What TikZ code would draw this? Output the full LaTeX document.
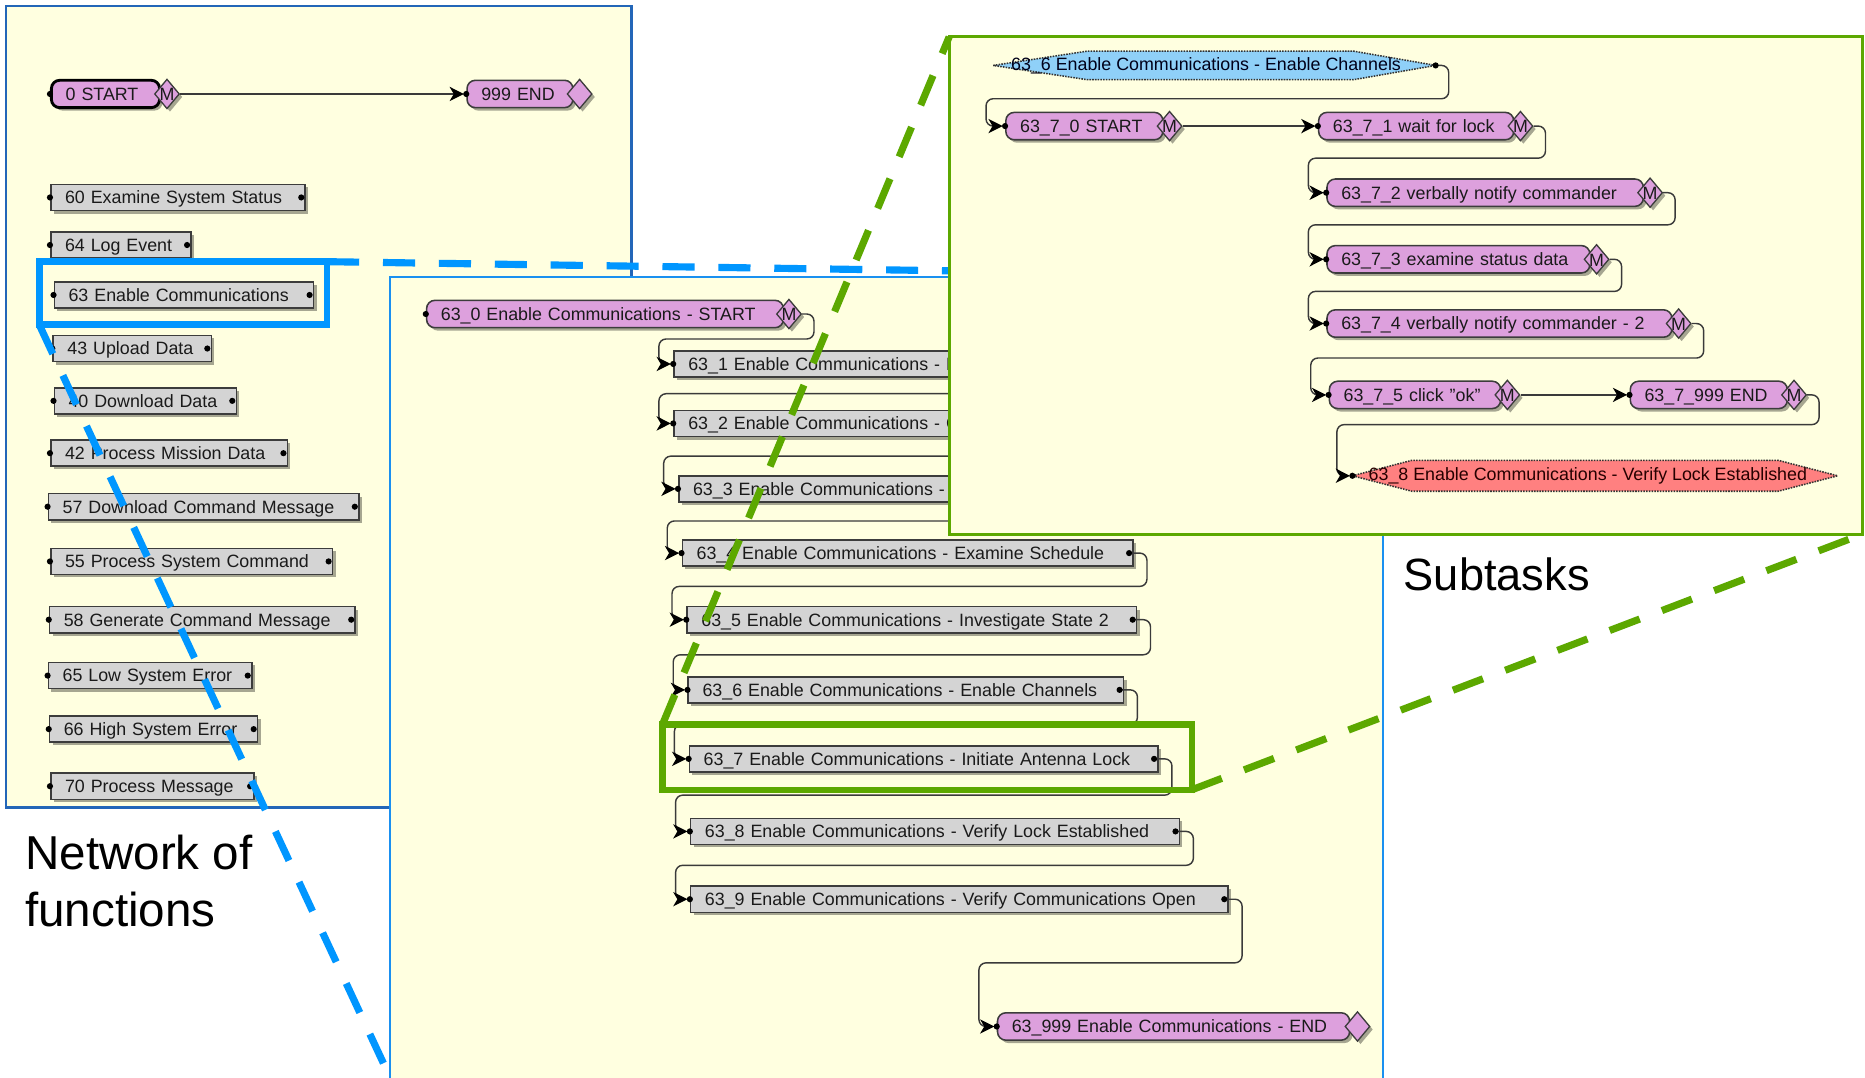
\documentclass[tikz,border=0pt]{standalone}
\usepackage{fontspec}
\setmainfont{Liberation Sans}
\usetikzlibrary{shapes.geometric,shadows,arrows.meta,calc}
\definecolor{panelfill}{HTML}{FFFFE0}
\definecolor{panAline}{HTML}{2366B8}
\definecolor{panBline}{HTML}{1A90F0}
\definecolor{hlblue}{HTML}{0096FF}
\definecolor{hlgreen}{HTML}{5CA800}
\definecolor{grayfill}{HTML}{D4D4D4}
\definecolor{pinkfill}{HTML}{DDA0DD}
\definecolor{boxline}{HTML}{3C3C3C}
\definecolor{linec}{HTML}{3A3A3A}
\definecolor{bluefill}{HTML}{8FD0F8}
\definecolor{redfill}{HTML}{FF8080}
\definecolor{txtc}{HTML}{1A1A1A}
\newcommand\myNodeFont{\fontsize{15}{18}\selectfont}
\newcommand\myMFont{\fontsize{15}{15}\selectfont}
\newcommand\mkLdot[1]{\fill[black] (#1.west) circle (2.6pt);}
\newcommand\mkRdot[1]{\fill[black] ([xshift=-4pt]#1.east) circle (2.6pt);}
% source, target, run right, drop, back-off left
\newcommand\retFlow[5]{\draw[flow] (#1) -- ++(#3pt,0pt) -- ++(0,#4) -| ([xshift=-#5pt]#2.west) -- (#2.west);}
\begin{document}
\begin{tikzpicture}[x=1pt,y=-1pt,
  every node/.style={font=\myNodeFont, text=txtc},
  shad/.style={drop shadow={shadow xshift=2.5pt,shadow yshift=-2.5pt,fill=black,opacity=0.35}},
  box/.style={anchor=west, inner xsep=12pt, inner ysep=0pt, minimum height=22pt, text height=11.5pt, text depth=0.8pt, align=left, line width=1.3pt, draw=boxline, shad},
  gbox/.style={box, fill=grayfill, text width=#1},
  pbox/.style={box, fill=pinkfill, rounded corners=7pt, minimum height=23pt, text width=#1},
  edia/.style={diamond, draw=boxline, line width=1.1pt, fill=pinkfill, minimum width=21pt, minimum height=25pt, inner sep=0pt, shad},
  mdia/.style={edia, label={[font=\myMFont, inner sep=0pt, text=txtc, yshift=-0.5pt]center:M}},
  flow/.style={draw=linec, line width=1.2pt, rounded corners=6pt, -{Stealth[length=12pt,width=12pt,inset=3.5pt,color=black]}, shorten >=2pt},
  panel/.style={fill=panelfill, line width=2pt},
  dashln/.style={line width=6pt, dash pattern=on 27pt off 20pt},
  hlbox/.style={draw=#1, line width=5.5pt, outer sep=0pt, inner sep=0pt, anchor=north west},
  sigsh/.style={draw=black!80, densely dotted, line width=1.3pt},
]
\useasboundingbox (0,0) rectangle (1568,906);
\clip (0,0) rectangle (1568,906);
\fill[white] (0,0) rectangle (1568,906);

% ---------------- Panel A: network of functions
\filldraw[panel, draw=panAline] (5,5) rectangle (531,679);
\node[pbox=67pt, line width=2.4pt, draw=black] (a0) at (42,79) {0 START};
\node[mdia] (a0m) at ([xshift=5pt]a0.east) {};
\node[pbox=65pt] (a999) at (392,79) {999 END};
\node[edia] (a999d) at ([xshift=5pt]a999.east) {};
\draw[flow] (a0m.east) -- (a999.west);
\mkLdot{a0} \mkLdot{a999}

\node[gbox=190pt] (a60) at (42,166) {60 Examine System Status};
\node[gbox=94pt]  (a64) at (42,206) {64 Log Event};
\node[gbox=194pt] (a63) at (45,248) {63 Enable Communications};
\node[gbox=109pt] (a43) at (44,293) {43 Upload Data};
\node[gbox=129pt] (a40) at (45,337) {40 Download Data};
\node[gbox=175pt] (a42) at (42,381) {42 Process Mission Data};
\node[gbox=237pt] (a57) at (40,426) {57 Download Command Message};
\node[gbox=213pt] (a55) at (42,472) {55 Process System Command};
\node[gbox=233pt] (a58) at (41,521) {58 Generate Command Message};
\node[gbox=147pt] (a65) at (40,568) {65 Low System Error};
\node[gbox=151pt] (a66) at (41,613) {66 High System Error};
\node[gbox=147pt] (a70) at (42,661) {70 Process Message};
\foreach \n in {a60,a64,a63,a43,a40,a42,a57,a55,a58,a65,a66,a70}{\mkLdot{\n} \mkRdot{\n}}

% blue highlight and zoom lines
\node[hlbox=hlblue, minimum width=242pt, minimum height=53pt] (hlA) at (33,220) {};
\coordinate (pBtr) at (1163,233);
\coordinate (pBbl) at (328,906);
\draw[dashln, hlblue] (hlA.north east) -- (pBtr);
\draw[dashln, hlblue] (hlA.south west) -- (pBbl);

% ---------------- Panel B: 63 Enable Communications
\filldraw[panel, draw=panBline] (328,233) rectangle (1163,915);
\node[pbox=276pt] (b0) at (358,264) {63\_0 Enable Communications - START};
\node[mdia] (b0m) at ([xshift=4pt]b0.east) {};
\node[gbox=396pt] (b1) at (566,306) {63\_1 Enable Communications - F};
\node[gbox=396pt] (b2) at (566,356) {63\_2 Enable Communications - C};
\node[gbox=396pt] (b3) at (570,411) {63\_3 Enable Communications - I};
\node[gbox=355pt] (b4) at (573,465) {63\_4 Enable Communications - Examine Schedule};
\node[gbox=354pt] (b5) at (577,521) {63\_5 Enable Communications - Investigate State 2};
\node[gbox=342pt] (b6) at (578,580) {63\_6 Enable Communications - Enable Channels};
\node[gbox=370pt] (b7) at (579,638) {63\_7 Enable Communications - Initiate Antenna Lock};
\node[gbox=387pt] (b8) at (580,699) {63\_8 Enable Communications - Verify Lock Established};
\node[gbox=428pt] (b9) at (580,756) {63\_9 Enable Communications - Verify Communications Open};
\node[pbox=272pt] (b999) at (838,863) {63\_999 Enable Communications - END};
\node[edia] (b999d) at ([xshift=6pt]b999.east) {};

\retFlow{b0m.east}{b1}{10}{21}{12}
\retFlow{[xshift=-4pt]b1.east}{b2}{15}{25}{12}
\retFlow{[xshift=-4pt]b2.east}{b3}{15}{27.5}{12}
\retFlow{[xshift=-4pt]b3.east}{b4}{15}{27}{12}
\retFlow{[xshift=-4pt]b4.east}{b5}{15}{28}{12}
\retFlow{[xshift=-4pt]b5.east}{b6}{15}{29.5}{12}
\retFlow{[xshift=-4pt]b6.east}{b7}{15}{29}{12}
\retFlow{[xshift=-4pt]b7.east}{b8}{15}{30.5}{12}
\retFlow{[xshift=-4pt]b8.east}{b9}{15}{28.5}{12}
\retFlow{[xshift=-4pt]b9.east}{b999}{15}{53.5}{15}
\mkLdot{b0} \mkLdot{b999}
\foreach \n in {b1,b2,b3,b4,b5,b6,b7,b8,b9}{\mkLdot{\n} \mkRdot{\n}}

% ---------------- Panel C: subtasks
\filldraw[panel, draw=hlgreen, line width=2.5pt] (798,31) rectangle (1566,449);
\filldraw[sigsh, fill=bluefill] (835,55) -- (914,43) -- (1138,43) -- (1207,55) -- (1138,67) -- (914,67) -- cycle;
\node[inner sep=0pt, text=black!90!blue] (c6) at (1014,55) {63\_6 Enable Communications - Enable Channels};
\coordinate (c6r) at (1207,55);

\node[pbox=108pt] (c70) at (845,106) {63\_7\_0 START};
\node[mdia] (c70m) at ([xshift=5pt]c70.east) {};
\node[pbox=140pt] (c71) at (1108,106) {63\_7\_1 wait for lock};
\node[mdia] (c71m) at ([xshift=5pt]c71.east) {};
\node[pbox=242pt] (c72) at (1115,162) {63\_7\_2 verbally notify commander};
\node[mdia] (c72m) at ([xshift=5pt]c72.east) {};
\node[pbox=197pt] (c73) at (1115,218) {63\_7\_3 examine status data};
\node[mdia] (c73m) at ([xshift=5pt]c73.east) {};
\node[pbox=266pt] (c74) at (1115,272) {63\_7\_4 verbally notify commander - 2};
\node[mdia] (c74m) at ([xshift=5pt]c74.east) {};
\node[pbox=120pt] (c75) at (1117,332) {63\_7\_5 click "ok"};
\node[mdia] (c75m) at ([xshift=5pt]c75.east) {};
\node[pbox=108pt] (c7999) at (1370,332) {63\_7\_999 END};
\node[mdia] (c7999m) at ([xshift=5pt]c7999.east) {};

\filldraw[sigsh, fill=redfill] (1137,400) -- (1187,387) -- (1495,387) -- (1545,400) -- (1495,413) -- (1187,413) -- cycle;
\node[inner sep=0pt, text=black!85!red] (c8) at (1335,400) {63\_8 Enable Communications - Verify Lock Established};
\coordinate (c8l) at (1137,400);

\retFlow{c6r}{c70}{11}{28}{16}
\draw[flow] (c70m.east) -- (c71.west);
\retFlow{c71m.east}{c72}{10}{27}{15}
\retFlow{c72m.east}{c73}{10}{27}{15}
\retFlow{c73m.east}{c74}{10}{27}{15}
\retFlow{c74m.east}{c75}{10}{29}{15}
\draw[flow] (c75m.east) -- (c7999.west);
\retFlow{c7999m.east}{c8l}{10}{25}{13}
\fill[black] (c6r) circle (2.6pt);
\foreach \n in {c70,c71,c72,c73,c74,c75,c7999,c8l}{\mkLdot{\n}}

% green highlight and zoom lines
\node[hlbox=hlgreen, minimum width=445pt, minimum height=55pt] (hlB) at (557,609) {};
\coordinate (pCtl) at (798,31);
\coordinate (pCbr) at (1566,449);
\draw[dashln, hlgreen] (hlB.north west) -- (pCtl);
\draw[dashln, hlgreen] (hlB.south east) -- (pCbr);

% captions
\node[font=\fontsize{40}{48}\selectfont, align=left, anchor=north west, inner sep=0pt, text=black] (lblN) at (21,702) {Network of\\functions};
\node[font=\fontsize{38}{46}\selectfont, anchor=base west, inner sep=0pt, text=black] (lblS) at (1180,496.6) {Subtasks};
\end{tikzpicture}
\end{document}
